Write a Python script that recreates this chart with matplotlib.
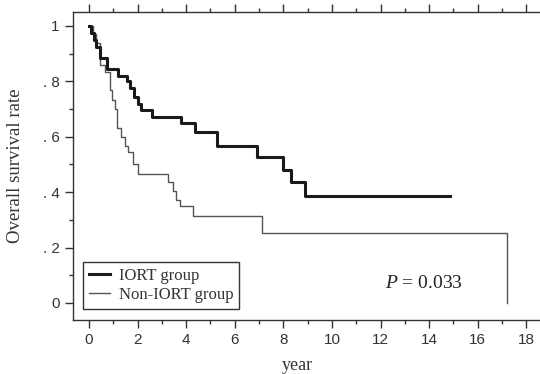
import matplotlib.pyplot as plt
from matplotlib.ticker import MultipleLocator, FixedLocator

plt.rcParams['mathtext.fontset'] = 'custom'
plt.rcParams['mathtext.it'] = 'Liberation Serif:italic'
plt.rcParams['mathtext.rm'] = 'Liberation Serif'

# Kaplan-Meier curves (time in years, survival rate)
iort_time = [0, 0.1, 0.2, 0.3, 0.45, 0.75, 1.2, 1.55, 1.7, 1.85, 2.0, 2.15,
             2.6, 3.8, 4.35, 5.25, 6.9, 8.0, 8.3, 8.9, 14.85]
iort_surv = [1.0, 0.975, 0.95, 0.925, 0.885, 0.845, 0.82, 0.80, 0.775, 0.745,
             0.72, 0.695, 0.672, 0.648, 0.618, 0.568, 0.528, 0.48, 0.438, 0.386, 0.386]

non_time = [0, 0.15, 0.3, 0.45, 0.66, 0.86, 0.95, 1.05, 1.15, 1.3, 1.5, 1.6,
            1.82, 2.03, 3.26, 3.47, 3.6, 3.75, 4.29, 7.11, 17.19, 17.19]
non_surv = [1.0, 0.97, 0.94, 0.86, 0.835, 0.77, 0.733, 0.70, 0.632, 0.60, 0.565,
            0.545, 0.50, 0.465, 0.435, 0.405, 0.37, 0.35, 0.314, 0.252, 0.252, 0.0]

x_ticks = [0, 2, 4, 6, 8, 10, 12, 14, 16, 18]
y_ticks = [0, 0.2, 0.4, 0.6, 0.8, 1.0]
y_tick_labels = ['0', '. 2', '. 4', '. 6', '. 8', '1']

fig = plt.figure(figsize=(5.4, 3.74), dpi=100)
ax = fig.add_axes([0.1352, 0.1444, 0.8648, 0.8235])

ax.step(non_time, non_surv, where='post', color='#555555', lw=1.0, label='Non-IORT group')
ax.step(iort_time, iort_surv, where='post', color='#1a1a1a', lw=2.2, label='IORT group')

ax.set_xlim(-0.658, 18.56)
ax.set_ylim(-0.0614, 1.0505)

ax.xaxis.set_major_locator(FixedLocator(x_ticks))
ax.xaxis.set_minor_locator(MultipleLocator(1))
ax.yaxis.set_major_locator(FixedLocator(y_ticks))
ax.yaxis.set_minor_locator(MultipleLocator(0.1))
ax.set_yticklabels(y_tick_labels)

for s in ax.spines.values():
    s.set_color('#333333')
    s.set_linewidth(1.0)
ax.spines['right'].set_visible(False)

ax.tick_params(which='both', direction='out', color='#333333', width=1.0,
               labelcolor='#333333', labelsize=11, top=True)
ax.tick_params(which='major', length=6)
ax.tick_params(which='minor', length=3)
ax.tick_params(axis='x', which='both', top=True, labeltop=False)
for lab in ax.get_xticklabels() + ax.get_yticklabels():
    lab.set_family('Liberation Sans')

ax.set_xlabel('year', family='Liberation Serif', fontsize=13, color='#333333')
ax.xaxis.set_label_coords(0.48, -0.12)
ax.set_ylabel('Overall survival rate', family='Liberation Serif', fontsize=13.5,
              color='#333333')
ax.yaxis.set_label_coords(-0.105, 0.5)

ax.text(12.18, 0.072, '$P$ = 0.033', fontsize=14, color='#222222', va='center',
        ha='left', family='Liberation Serif')

handles, labels = ax.get_legend_handles_labels()
leg = ax.legend(handles[::-1], labels[::-1], loc='lower left',
                bbox_to_anchor=(0.021, 0.036), borderaxespad=0,
                prop={'family': 'Liberation Serif', 'size': 12},
                fancybox=False, edgecolor='#333333', framealpha=1,
                handlelength=1.3, handletextpad=0.5, labelspacing=0.2,
                borderpad=0.35)
leg.get_frame().set_linewidth(1.0)
for t in leg.get_texts():
    t.set_color('#333333')

fig.savefig('out.png', dpi=100)
